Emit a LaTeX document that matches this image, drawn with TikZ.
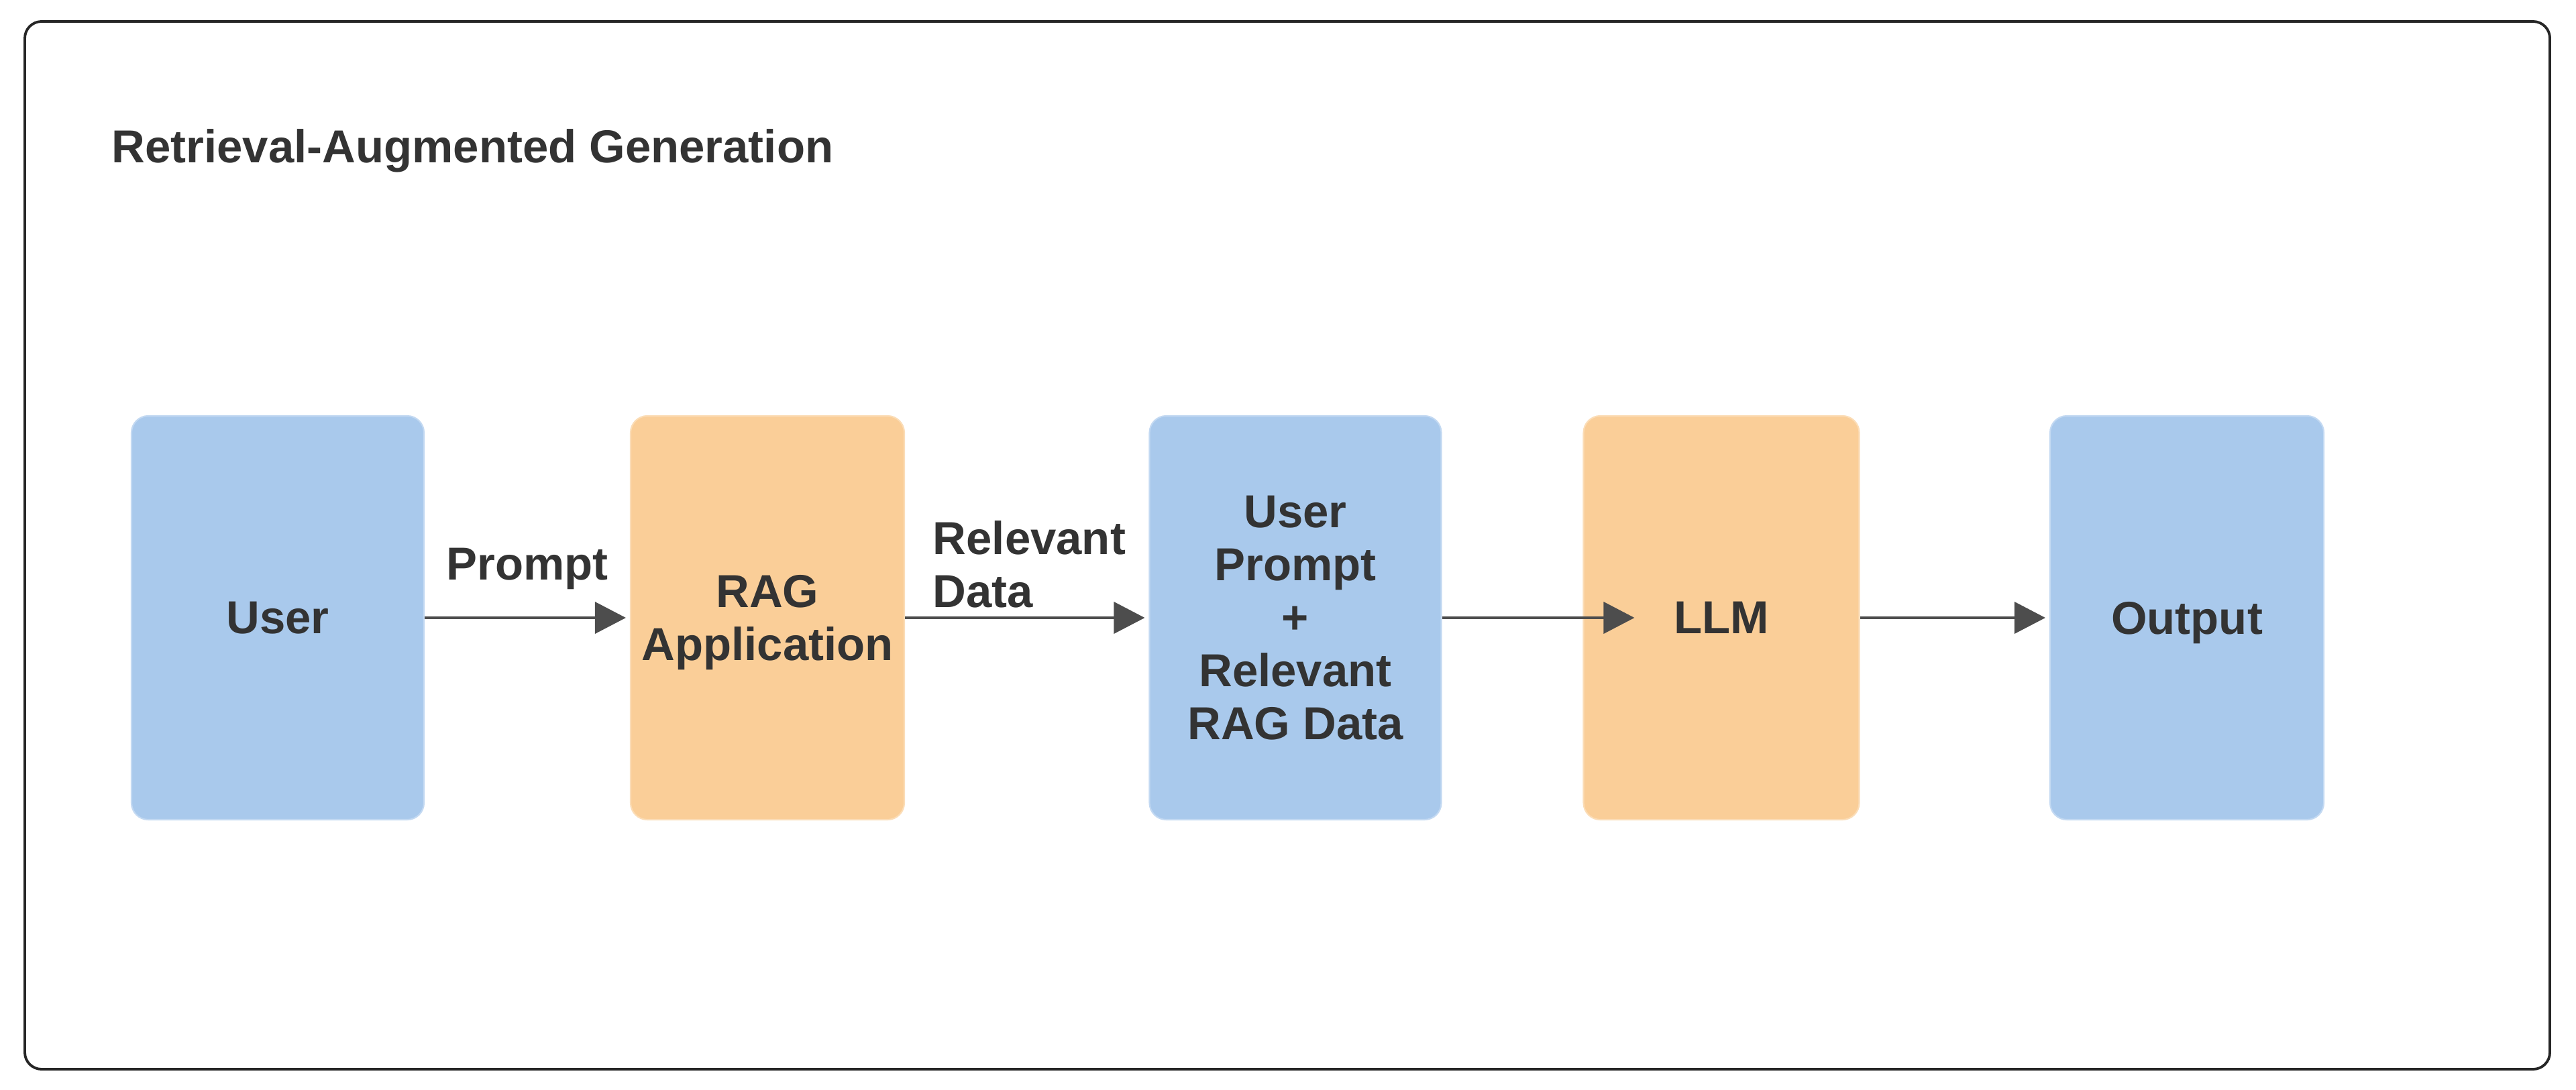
\documentclass[tikz,border=0pt]{standalone}
\usepackage{fontspec}
\setmainfont{Liberation Sans}
\usepackage{tikz}
\usepackage{xcolor}
\usetikzlibrary{arrows.meta}
\definecolor{boxblue}{RGB}{169,201,236}
\definecolor{boxorange}{RGB}{250,206,152}
\definecolor{textgray}{RGB}{51,51,51}
\definecolor{arrowgray}{RGB}{77,77,77}

\begin{document}
\begin{tikzpicture}[
    ublock/.style={rectangle, rounded corners=0.25cm, fill=boxblue, draw=boxblue!70!white, line width=0.6pt,
        minimum height=6.02cm, inner xsep=0.08cm, text depth=0pt, align=center, text=textgray,
        font=\fontsize{19.6}{22.5}\selectfont\bfseries},
    oblock/.style={ublock, fill=boxorange, draw=boxorange!70!white},
    lbl/.style={inner sep=0pt, text=textgray, align=left, font=\fontsize{19.6}{22.5}\selectfont\bfseries},
    flow/.style={-{Triangle[length=0.46cm,width=0.47cm]}, line width=1pt, draw=arrowgray, shorten >=0.06cm}]
    \useasboundingbox (0,0) rectangle (38.4,16.24);
    % Outer frame
    \draw[line width=1.1pt, rounded corners=0.25cm, draw=black!85] (0.37,0.30) rectangle (38.01,15.92);
    % Title
    \node[lbl, anchor=base west] (title) at (1.66,13.81) {Retrieval-Augmented Generation};

    % Blocks
    \node[ublock, minimum width=4.36cm] (user) at (4.14,7.03) {User};
    \node[oblock, minimum width=4.08cm] (rag) at (11.44,7.03) {RAG\\Application};
    \node[ublock, minimum width=4.35cm] (combo) at (19.31,7.03) {User\\Prompt\\+\\Relevant\\RAG Data};
    \node[oblock, minimum width=4.11cm] (llm) at (25.66,7.03) {LLM};
    \node[ublock, minimum width=4.08cm] (output) at (32.60,7.03) {Output};

    % Arrows
    \draw[flow] (user) -- (rag) node[lbl, midway, above=0.40cm] {Prompt};
    \draw[flow] (rag) -- (combo) node[lbl, pos=0, anchor=south west, xshift=0.40cm, yshift=0.13cm] {Relevant\\Data};
    \draw[flow] (combo) -- ([xshift=0.83cm]llm.west);
    \draw[flow] (llm) -- (output);
\end{tikzpicture}
\end{document}
